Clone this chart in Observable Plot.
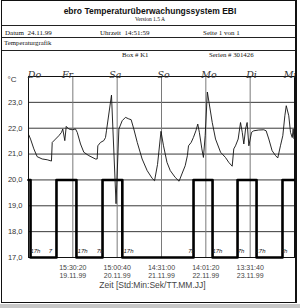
<!DOCTYPE html>
<html><head><meta charset="utf-8">
<script src="https://cdn.jsdelivr.net/npm/d3@7"></script>
<script src="https://cdn.jsdelivr.net/npm/@observablehq/plot@0.6"></script>
<style>
body{margin:0;background:#fff;}
#page{position:relative;width:300px;height:308px;overflow:hidden;font-family:"Liberation Serif","Times New Roman",serif;color:#111;}
#header{position:relative;height:60px;}
#chart svg{display:block;}
#border{position:absolute;left:1px;top:0px;width:293px;height:301px;border:1px solid #111;border-right:2px solid #111;pointer-events:none;}
#shade{position:absolute;left:0;top:304px;width:300px;height:4px;background:#c8c8c8;}
.hl{position:absolute;left:1px;width:296px;height:0;border-top:1px solid #222;}
.t{position:absolute;white-space:nowrap;line-height:1;}
</style></head>
<body><div id="page">
<div id="header">
  <div class="t" style="left:0;width:300px;top:6px;text-align:center;font:bold 8.5px 'Liberation Sans',Arial,sans-serif;">ebro Temperaturüberwachungssystem EBI</div>
  <div class="t" style="left:0;width:300px;top:16.5px;text-align:center;font-size:5.5px;">Version 1.5 A</div>
  <div class="hl" style="top:25px"></div>
  <div class="t" style="left:5px;top:29.5px;font-size:7px;">Datum&nbsp; 24.11.99</div>
  <div class="t" style="left:100px;top:29.5px;font-size:7px;">Uhrzeit&nbsp; 14:51:59</div>
  <div class="t" style="left:203px;top:29.5px;font-size:7px;">Seite 1 von 1</div>
  <div class="hl" style="top:37px"></div>
  <div class="t" style="left:4px;top:40px;font-size:6.8px;">Temperaturgrafik</div>
  <div class="hl" style="top:50px"></div>
  <div class="t" style="left:122px;top:52px;font-size:6.8px;">Box # K1</div>
  <div class="t" style="left:209px;top:52px;font-size:6.8px;">Serien # 301426</div>
</div>
<div id="chart"></div>
<div id="border"></div>
<div id="shade"></div>
</div>
<script>
// ---- data ----
const domainTimes = ["18.11.99 16:00:00", "24.11.99 13:02:00"];
const tickTimes = ["19.11.99 15:30:20", "20.11.99 15:00:40", "21.11.99 14:31:00", "22.11.99 14:01:20", "23.11.99 13:31:40"];
const yTicks = [17, 18, 19, 20, 21, 22, 23];
const yGrid = [18, 19, 20, 21, 22, 23];
const unitLabel = "°C";
const xLabel = "Zeit [Std:Min:Sek/TT.MM.JJ]";

const tempTimes = [
 "18.11.99 16:10","18.11.99 17:05","18.11.99 18:50","18.11.99 20:35","18.11.99 23:15",
 "19.11.99 01:55","19.11.99 04:10","19.11.99 04:35","19.11.99 06:20","19.11.99 08:05",
 "19.11.99 09:30","19.11.99 10:10","19.11.99 11:15","19.11.99 12:00","19.11.99 13:20",
 "19.11.99 15:10","19.11.99 16:55","19.11.99 17:50","19.11.99 19:35","19.11.99 21:20",
 "19.11.99 23:58","20.11.99 03:30","20.11.99 04:25","20.11.99 04:45","20.11.99 06:10",
 "20.11.99 07:55","20.11.99 08:50","20.11.99 09:20","20.11.99 12:00","20.11.99 14:25",
 "20.11.99 15:55","20.11.99 17:40","20.11.99 19:25","20.11.99 21:10","20.11.99 22:25",
 "20.11.99 23:50","21.11.99 01:40","21.11.99 04:15","21.11.99 06:55","21.11.99 09:35",
 "21.11.99 10:50","21.11.99 12:25","21.11.99 14:15","21.11.99 15:35","21.11.99 17:25",
 "21.11.99 19:10","21.11.99 21:45","21.11.99 23:50","22.11.99 01:20","22.11.99 03:05",
 "22.11.99 04:15","22.11.99 04:50","22.11.99 06:15","22.11.99 07:25","22.11.99 08:45",
 "22.11.99 09:45","22.11.99 10:35","22.11.99 11:55","22.11.99 12:45","22.11.99 13:40",
 "22.11.99 14:50","22.11.99 17:25","22.11.99 19:10","22.11.99 21:50","23.11.99 00:25",
 "23.11.99 02:10","23.11.99 04:00","23.11.99 04:50","23.11.99 05:45","23.11.99 07:10",
 "23.11.99 08:25","23.11.99 09:20","23.11.99 10:10","23.11.99 11:05","23.11.99 11:55",
 "23.11.99 12:50","23.11.99 14:15","23.11.99 15:25","23.11.99 18:05","23.11.99 20:45",
 "23.11.99 22:00","23.11.99 23:25","24.11.99 01:10","24.11.99 03:00","24.11.99 04:10",
 "24.11.99 05:35","24.11.99 06:50","24.11.99 07:55","24.11.99 08:40","24.11.99 10:00",
 "24.11.99 10:55","24.11.99 11:50","24.11.99 12:20","24.11.99 12:45"
];
const tempValues = [
 21.74,21.58,21.20,20.90,20.81,
 20.78,20.73,21.45,21.58,21.71,
 21.84,21.97,21.52,22.07,21.97,
 21.94,21.97,21.84,21.39,21.07,
 20.94,20.81,20.81,21.32,21.45,
 21.52,21.64,21.90,23.28,19.08,
 21.97,22.29,22.42,22.36,22.33,
 21.97,21.45,20.81,20.36,20.06,
 19.97,20.60,21.88,21.32,20.68,
 20.36,20.10,19.95,20.23,20.55,
 20.94,21.32,21.45,21.64,21.90,
 22.16,21.84,21.20,20.87,21.71,
 23.40,22.22,21.58,21.07,20.87,
 20.68,20.53,21.20,21.32,21.58,
 22.22,21.84,21.39,21.97,22.22,
 21.32,21.84,21.90,21.93,21.94,
 21.90,21.58,21.13,20.94,20.85,
 21.32,21.71,22.48,22.87,22.48,
 21.84,21.64,21.97,21.60
];

const signalTimes = ["18.11.99 16:00:00","18.11.99 17:05:00","19.11.99 06:50:00","19.11.99 17:25:00",
 "20.11.99 07:15:00","20.11.99 17:45:00","22.11.99 07:30:00","22.11.99 17:35:00",
 "23.11.99 06:50:00","23.11.99 16:55:00","24.11.99 06:40:00","24.11.99 13:02:00"];
const signalValues = [20,17,20,17,20,17,20,17,20,17,20,20];

const dayNames = ["Do","Fr","Sa","So","Mo","Di","Mi"];
const dayTimes = ["18.11.99 19:10:00","19.11.99 12:40:00","20.11.99 14:05:00","21.11.99 15:35:00",
 "22.11.99 15:40:00","23.11.99 14:15:00","24.11.99 10:40:00"];

const noteTexts = ["17h","7","17h","7h","17h","7h","17h","7h","17h","7h"];
const noteTimes = ["18.11.99 19:40:00","19.11.99 03:40:00","19.11.99 20:40:00","20.11.99 05:55:00",
 "20.11.99 21:00:00","22.11.99 06:25:00","22.11.99 20:10:00","23.11.99 08:40:00",
 "23.11.99 19:00:00","24.11.99 07:30:00"];

// ---- build ----
const p1 = d3.utcParse("%d.%m.%y %H:%M:%S");
const p2 = d3.utcParse("%d.%m.%y %H:%M");
const parse = s => p1(s) || p2(s);
const domain = domainTimes.map(parse);
const ticks = tickTimes.map(parse);
const temp = tempTimes.map((t,i) => ({t: parse(t), v: tempValues[i]}));
const signal = signalTimes.map((t,i) => ({t: parse(t), v: signalValues[i]}));
const days = dayTimes.map((t,i) => ({t: parse(t), s: dayNames[i]}));
const notes = noteTimes.map((t,i) => ({t: parse(t), s: noteTexts[i]}));
const fmtX = d3.utcFormat("%H:%M:%S\n%d.%m.%y");
const fmtY = d => d.toFixed(1).replace(".", ",");

const chart = Plot.plot({
  width: 300, height: 248,
  marginLeft: 28, marginRight: 6, marginTop: 16, marginBottom: 51,
  style: {fontFamily: "'Liberation Sans', Arial, sans-serif", background: "transparent", overflow: "visible"},
  x: {type: "utc", domain, label: null},
  y: {domain: [17, 24], label: null},
  marks: [
    Plot.ruleY(yGrid, {stroke: "#222", strokeWidth: 0.9}),
    Plot.ruleX(ticks, {stroke: "#7a7a7a", strokeWidth: 1}),
    Plot.frame({stroke: "#111", strokeWidth: 1}),
    Plot.line(signal, {x: "t", y: "v", curve: "step-after", stroke: "#000", strokeWidth: 2.6}),
    Plot.line(temp, {x: "t", y: "v", stroke: "#111", strokeWidth: 0.9}),
    Plot.axisY({ticks: yTicks, tickFormat: fmtY, tickSize: 0, tickPadding: 6, fontSize: 7.5, fill: "#333", label: null}),
    Plot.text([unitLabel], {frameAnchor: "top-left", dx: -21, dy: 0, fontSize: 8, fill: "#333", textAnchor: "start"}),
    Plot.axisX({ticks, tickFormat: fmtX, tickSize: 0, tickPadding: 7, fontSize: 7, fill: "#444", lineHeight: 1.1, label: null}),
    Plot.text([xLabel], {frameAnchor: "bottom", dx: -9, dy: 30, fontSize: 8.5, fill: "#444"}),
    Plot.text(days, {x: "t", y: () => 24, text: "s", dy: -2, fontSize: 9.5, fontStyle: "italic", fontFamily: "'DejaVu Serif', serif", fill: "#333"}),
    Plot.text(notes, {x: "t", y: () => 17.25, text: "s", fontSize: 6, fontStyle: "italic", fill: "#222"})
  ]
});
document.getElementById("chart").appendChild(chart);
</script>
</body></html>
